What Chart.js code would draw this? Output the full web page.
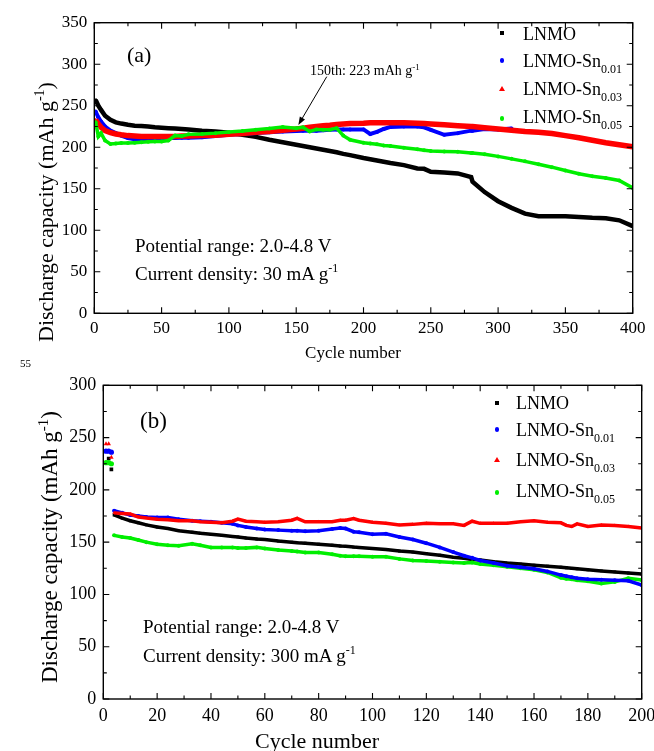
<!DOCTYPE html>
<html>
<head>
<meta charset="utf-8">
<script src="https://cdn.jsdelivr.net/npm/chart.js@4.4.1/dist/chart.umd.min.js"></script>
<style>
  html, body { margin: 0; padding: 0; background: #fff; }
  body { width: 654px; height: 751px; position: relative; overflow: hidden;
         font-family: "Liberation Serif", "Times New Roman", serif; color: #000; }
  canvas { position: absolute; left: 0; }
  #chartA { top: 0; }
  #chartB { top: 370px; }
  .t { position: absolute; white-space: nowrap; line-height: 1; }
  .sub { position: relative; font-size: 12px; top: 6px; }
  .sup { position: relative; font-size: 12px; top: -8px; }
  .rot { transform: translate(-50%, -50%) rotate(-90deg); }
  .mk { position: absolute; }
</style>
</head>
<body>
<canvas id="chartA" width="654" height="370"></canvas>
<canvas id="chartB" width="654" height="381"></canvas>

<!-- panel (a) text -->
<div class="t" style="left:127px;top:44px;font-size:22px">(a)</div>
<div class="t" style="left:310px;top:64px;font-size:14px">150th: 223 mAh g<span class="sup" style="font-size:9px;top:-5px">-1</span></div>
<div class="t" style="left:135px;top:235.5px;font-size:19px">Potential range: 2.0-4.8 V</div>
<div class="t" style="left:135px;top:263.5px;font-size:19px">Current density: 30 mA g<span class="sup">-1</span></div>
<div class="t rot" style="left:46px;top:212px;font-size:22px">Discharge capacity (mAh g<span class="sup" style="font-size:14px;top:-9px">-1</span>)</div>
<div class="t" style="left:353px;top:344px;font-size:17px;transform:translateX(-50%)">Cycle number</div>
<div class="t" style="left:20px;top:358px;font-size:11px">55</div>

<!-- panel (a) legend -->
<div class="mk" style="left:499.5px;top:31px;width:4px;height:4px;background:#000"></div>
<div class="t" style="left:523px;top:25px;font-size:18px">LNMO</div>
<div class="mk" style="left:499.5px;top:58px;width:4.5px;height:4.5px;border-radius:50%;background:#0000ff"></div>
<div class="t" style="left:523px;top:52px;font-size:18px">LNMO-Sn<span class="sub">0.01</span></div>
<div class="mk" style="left:499px;top:86px;width:0;height:0;border-left:3px solid transparent;border-right:3px solid transparent;border-bottom:5px solid #ff0000"></div>
<div class="t" style="left:523px;top:80px;font-size:18px">LNMO-Sn<span class="sub">0.03</span></div>
<div class="mk" style="left:499.5px;top:116px;width:4.5px;height:4.5px;border-radius:50%;background:#00ee00"></div>
<div class="t" style="left:523px;top:108px;font-size:18px">LNMO-Sn<span class="sub">0.05</span></div>

<!-- panel (b) text -->
<div class="t" style="left:140px;top:409px;font-size:23px">(b)</div>
<div class="t" style="left:143px;top:617px;font-size:19px">Potential range: 2.0-4.8 V</div>
<div class="t" style="left:143px;top:645.5px;font-size:19px">Current density: 300 mA g<span class="sup">-1</span></div>
<div class="t rot" style="left:49px;top:547px;font-size:23px">Discharge capacity (mAh g<span class="sup" style="font-size:15px;top:-9px">-1</span>)</div>
<div class="t" style="left:317px;top:729.5px;font-size:22px;transform:translateX(-50%)">Cycle number</div>

<!-- panel (b) legend -->
<div class="mk" style="left:494.5px;top:401px;width:4px;height:4px;background:#000"></div>
<div class="t" style="left:516px;top:393.5px;font-size:18px">LNMO</div>
<div class="mk" style="left:494.5px;top:427px;width:4.5px;height:4.5px;border-radius:50%;background:#0000ff"></div>
<div class="t" style="left:516px;top:420.5px;font-size:18px">LNMO-Sn<span class="sub">0.01</span></div>
<div class="mk" style="left:494px;top:456.5px;width:0;height:0;border-left:3px solid transparent;border-right:3px solid transparent;border-bottom:5px solid #ff0000"></div>
<div class="t" style="left:516px;top:450.5px;font-size:18px">LNMO-Sn<span class="sub">0.03</span></div>
<div class="mk" style="left:494.5px;top:490px;width:4.5px;height:4.5px;border-radius:50%;background:#00ee00"></div>
<div class="t" style="left:516px;top:481.5px;font-size:18px">LNMO-Sn<span class="sub">0.05</span></div>

<script>
// ── Panel (a): 30 mA g-1, 400 cycles ─────────────────────────────────────────
const CYCLES_A = [1,3,5,8,12,16,20,25,30,35,40,45,50,55,60,65,70,80,90,100,110,120,130,140,150,
  155,160,165,170,175,180,185,190,200,205,210,215,220,230,240,245,250,260,270,280,281,
  290,300,310,320,330,340,350,360,370,380,390,400];

const LNMO_A = [257,250,245,238,233,230,228.5,227,226,225.5,225,224,223.5,223,222.5,222,221.5,
  220,219,217.5,215,212.5,209,206,203,201.5,200,198.5,197,195.5,194,192,190.5,
  187,185.5,184,182.5,181,178.5,174.5,174,170.5,169.5,168.5,164,158.6,
  146,135,127,120,117,117,117,116,115,114.5,112,105];

const SN001_A = [243,236,231,225,220,217,214,211,209.5,209,209,210,210.5,211,211,211.5,211.5,
  212,213.5,215,216,217,218,219,219.5,220,220,220,220.5,221,221.5,221.5,221.5,
  221.5,216,218.5,222,224.5,225,225,224,221,215,217,220,220,
  222,221.5,222.5,null,null,null,null,null,null,null,null,null];

const SN003_A = [233,228,224,220,217.5,216,215,214,213.5,213,213,213,213,213,213,213.5,213.5,
  214,214.5,215.5,216.5,218,219,220.5,222,223,224,225,226,226.5,227.5,228,228.5,
  229,229.5,229.5,229.5,229.5,229.5,229,228.5,228,227,226,225,225,
  223.5,222,220.5,219,218,216.5,214,211.5,208.5,205.5,203,200.5];

const SN005_A = [230,213,217,208,204,204.5,205,205,205.5,206,206.5,207,207,208,214,213.5,215.5,
  216,217,218.5,219.5,221,222.5,224.5,223,224,219,221.5,221,221,223,214,209,
  205.5,204.5,203.5,202,201.5,199.5,197.5,196.5,195.5,195,194.5,193,193,
  191.5,189,186,183,179.5,176,172,168,165,163,160,151];

// arrow for the "150th" note, in data units [cycle, capacity]
const ARROW_FROM = [172.7, 285];
const ARROW_TO   = [151.6, 226.9];

// ── Panel (b): 300 mA g-1, 200 cycles ────────────────────────────────────────
const CYCLES_B = [1,2,3,4,7,10,13,16,20,24,28,33,36,40,44,48,50,53,57,60,65,70,72,75,80,
  85,88,90,93,95,100,105,110,115,120,125,130,134,137,140,145,150,155,160,165,
  170,172,174,176,180,185,190,195,200];

const LNMO_B = [null,230,219.6,176,173,170.5,168.5,166.5,164.5,163,161,159.5,158.5,157.5,156.5,155.5,155,
  154,153,152.5,151,150,149.5,149,148,147,146.3,146,145.3,145,144,
  143,141.5,140.5,139,137.5,135.5,134.5,133.5,133,131.3,130,129,128,127,
  126,125.5,125,124.5,123.5,122.5,121.5,120.5,119.5];

const SN001_B = [237,237,236,180,178,176,175,174,173.5,173.5,172,170.5,170,169.5,168.5,167.5,166,
  164.5,163,162,161.5,161,161,160.5,161,162.5,163.5,163,160,159.5,157.5,
  158,155,152.5,149,145,140.5,137,135,132.5,130,127.5,126,124.5,122,
  118.5,117.5,116.5,115.5,114.5,114,113.5,113,109];

const SN003_B = [244,244,231,178,177.5,177,174,173,172,171.5,170.5,170.5,169.5,169,168.5,170,172,
  170,169.5,169,169.5,171,172.8,169.5,169.5,169.5,171,171,172.5,171,169,
  168,166.5,167,168,167.5,167.5,166,170,168,168,168,169.5,170.5,169,
  168.5,166,165,167.5,165,166.5,166,165,163.5];

const SN005_B = [226,226,225,156.5,155,154,152,150,148,147,146.5,148.5,147,145,145,145,144.5,
  144.5,145,144,142.5,141.5,141,140,140,138.5,137,136.5,136.5,136.5,136,
  136,134,132.5,132,131.3,130.5,130,130.5,129,128,126.5,125,123.5,121,
  116,115,114.5,113.5,112.5,110.5,112,115.5,113.8];

const SERIF = '"Liberation Serif", "Times New Roman", serif';
const C_BLACK = '#000000', C_BLUE = '#0000ff', C_RED = '#ff0000', C_GREEN = '#00ee00';

const pts = (xs, ys) => xs.map((x, i) => ({ x, y: ys[i] }));

// boxed frame with inward major/minor ticks on all four sides
const frameTicks = {
  id: 'frameTicks',
  afterDatasetsDraw(chart, args, o) {
    const { ctx, chartArea: a, scales: { x, y } } = chart;
    const isMajor = (v, step) => Math.abs(v / step - Math.round(v / step)) < 1e-6;
    ctx.save();
    ctx.strokeStyle = '#000';
    ctx.lineWidth = 1.4;
    ctx.strokeRect(a.left, a.top, a.right - a.left, a.bottom - a.top);
    ctx.lineWidth = 1.1;
    ctx.beginPath();
    for (let v = x.min; v <= x.max + 1e-6; v += o.xMinor) {
      const px = x.getPixelForValue(v), len = isMajor(v, o.xMajor) ? o.major : o.minor;
      ctx.moveTo(px, a.bottom); ctx.lineTo(px, a.bottom - len);
      ctx.moveTo(px, a.top);    ctx.lineTo(px, a.top + len);
    }
    for (let v = y.min; v <= y.max + 1e-6; v += o.yMinor) {
      const py = y.getPixelForValue(v), len = isMajor(v, o.yMajor) ? o.major : o.minor;
      ctx.moveTo(a.left, py);  ctx.lineTo(a.left + len, py);
      ctx.moveTo(a.right, py); ctx.lineTo(a.right - len, py);
    }
    ctx.stroke();
    ctx.restore();
  }
};

// arrow pointing at the 150th cycle (panel a)
const noteArrow = {
  id: 'noteArrow',
  afterDatasetsDraw(chart) {
    const { ctx, scales: { x, y } } = chart;
    const x0 = x.getPixelForValue(ARROW_FROM[0]), y0 = y.getPixelForValue(ARROW_FROM[1]);
    const x1 = x.getPixelForValue(ARROW_TO[0]),   y1 = y.getPixelForValue(ARROW_TO[1]);
    const ang = Math.atan2(y1 - y0, x1 - x0), hl = 8, hw = 3;
    ctx.save();
    ctx.strokeStyle = '#000'; ctx.fillStyle = '#000'; ctx.lineWidth = 1;
    ctx.beginPath(); ctx.moveTo(x0, y0); ctx.lineTo(x1 - hl * 0.7 * Math.cos(ang), y1 - hl * 0.7 * Math.sin(ang)); ctx.stroke();
    ctx.beginPath();
    ctx.moveTo(x1, y1);
    ctx.lineTo(x1 - hl * Math.cos(ang) + hw * Math.sin(ang), y1 - hl * Math.sin(ang) - hw * Math.cos(ang));
    ctx.lineTo(x1 - hl * Math.cos(ang) - hw * Math.sin(ang), y1 - hl * Math.sin(ang) + hw * Math.cos(ang));
    ctx.closePath(); ctx.fill();
    ctx.restore();
  }
};

function series(label, xs, ys, color, style, bw, order, extra) {
  return Object.assign({
    label, data: pts(xs, ys), borderColor: color, backgroundColor: color,
    borderWidth: bw, pointStyle: style, pointRadius: 2, pointBorderWidth: 0,
    pointBackgroundColor: color, tension: 0, spanGaps: false, order,
  }, extra || {});
}

// fixed axis boxes so the plot area lands where the figure has it
function axes(xMax, xStep, yMax, yStep, fontSize, xH, yW, xPad) {
  const tickFont = { family: SERIF, size: fontSize };
  return {
    x: { type: 'linear', min: 0, max: xMax,
         ticks: { stepSize: xStep, font: tickFont, color: '#000', padding: xPad, maxRotation: 0, autoSkip: false },
         grid: { display: false, drawTicks: false }, border: { display: false },
         afterFit: s => { s.height = xH; s.paddingLeft = 0; s.paddingRight = 0; } },
    y: { type: 'linear', min: 0, max: yMax,
         ticks: { stepSize: yStep, font: tickFont, color: '#000', padding: 7 },
         grid: { display: false, drawTicks: false }, border: { display: false },
         afterFit: s => { s.width = yW; s.paddingTop = 0; s.paddingBottom = 0; } },
  };
}

new Chart(document.getElementById('chartA'), {
  type: 'line',
  data: {
    datasets: [
      series('LNMO-Sn0.05', CYCLES_A, SN005_A, C_GREEN, 'circle', 3.5, 0),
      series('LNMO-Sn0.03', CYCLES_A, SN003_A, C_RED, 'triangle', 5.5, 1),
      series('LNMO-Sn0.01', CYCLES_A, SN001_A, C_BLUE, 'circle', 4, 2),
      series('LNMO', CYCLES_A, LNMO_A, C_BLACK, 'rect', 4.5, 3),
    ],
  },
  options: {
    responsive: false, animation: false,
    layout: { autoPadding: false, padding: { left: 0, right: 21.3, top: 22.7, bottom: 0 } },
    plugins: {
      legend: { display: false }, tooltip: { enabled: false },
      frameTicks: { xMajor: 50, xMinor: 25, yMajor: 50, yMinor: 25, major: 6, minor: 3.5 },
    },
    scales: axes(400, 50, 350, 50, 17, 56.7, 94.3, 5),
  },
  plugins: [frameTicks, noteArrow],
});

// the first three cycles are loose points: no line between them or across the jump to cycle 4
const looseStart = {
  segment: { borderColor: c => (c.p0.parsed.x < 4) ? 'rgba(0,0,0,0)' : undefined },
  pointRadius: c => (c.raw && c.raw.x < 4) ? 2.6 : 2,
};

new Chart(document.getElementById('chartB'), {
  type: 'line',
  data: {
    datasets: [
      series('LNMO-Sn0.03', CYCLES_B, SN003_B, C_RED, 'triangle', 3.5, 0, looseStart),
      series('LNMO-Sn0.01', CYCLES_B, SN001_B, C_BLUE, 'circle', 3.5, 1, looseStart),
      series('LNMO-Sn0.05', CYCLES_B, SN005_B, C_GREEN, 'circle', 3.5, 2, looseStart),
      series('LNMO', CYCLES_B, LNMO_B, C_BLACK, 'rect', 3.5, 3, looseStart),
    ],
  },
  options: {
    responsive: false, animation: false,
    layout: { autoPadding: false, padding: { left: 0, right: 12.3, top: 15.3, bottom: 0 } },
    plugins: {
      legend: { display: false }, tooltip: { enabled: false },
      frameTicks: { xMajor: 20, xMinor: 10, yMajor: 50, yMinor: 25, major: 6, minor: 3.5 },
    },
    scales: axes(200, 20, 300, 50, 18, 52, 103.3, 6),
  },
  plugins: [frameTicks],
});
</script>
</body>
</html>
